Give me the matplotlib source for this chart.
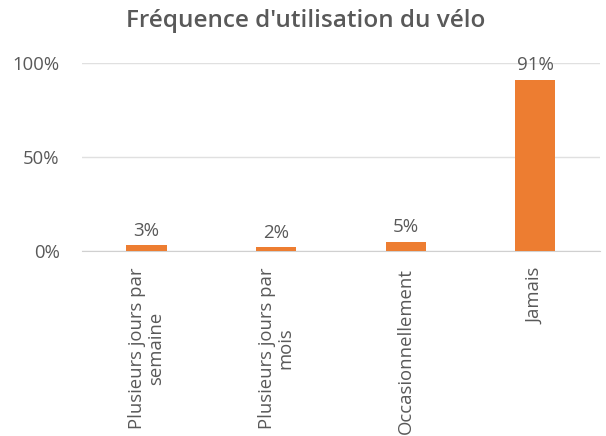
import matplotlib
matplotlib.use("Agg")
import matplotlib.pyplot as plt
from matplotlib.ticker import PercentFormatter

categories = ["Plusieurs jours par\nsemaine", "Plusieurs jours par\nmois", "Occasionnellement", "Jamais"]
values = [3, 2, 5, 91]
yticks = [0, 50, 100]

plt.rcParams['font.family'] = ['Open Sans', 'DejaVu Sans']
gray = "#595959"

fig = plt.figure(figsize=(6.06, 4.36), dpi=100)
ax = fig.add_axes([0.135, 0.424, 0.855, 0.432])
x = list(range(len(categories)))
ax.bar(x, values, width=0.31, color="#ED7D31", zorder=3)
for xi, v in zip(x, values):
    ax.text(xi, v + 3, f"{v}%", ha="center", va="bottom", fontsize=13.5, color=gray)
ax.set_xlim(-0.5, len(categories) - 0.5)
ax.set_ylim(0, 100)
ax.set_yticks(yticks)
ax.yaxis.set_major_formatter(PercentFormatter(decimals=0))
ax.set_xticks(x)
ax.set_xticklabels(categories, rotation=90, ha="center", va="top", fontsize=13.3, color=gray, linespacing=1.05)
ax.tick_params(axis="y", length=0, pad=16, labelsize=13.3, labelcolor=gray)
ax.tick_params(axis="x", length=0, pad=12)
ax.grid(axis="y", color="#E0E0E0", linewidth=1, zorder=0)
for s in ["top", "right", "left"]:
    ax.spines[s].set_visible(False)
ax.spines["bottom"].set_color("#D0D0D0")
fig.text(0.505, 0.952, "Fréquence d'utilisation du vélo", ha="center", va="center",
         fontsize=17.5, fontweight="semibold", color=gray)
fig.savefig("out.png", dpi=100)
